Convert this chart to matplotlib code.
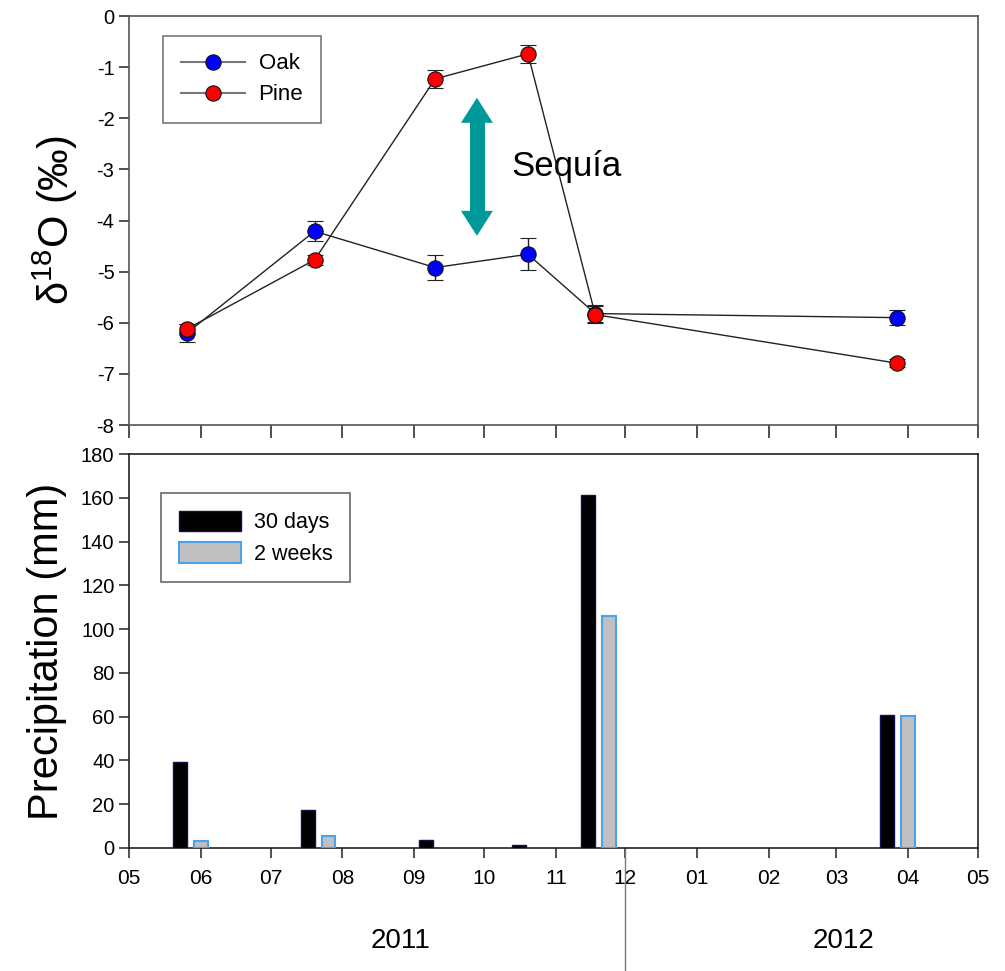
import matplotlib
matplotlib.use("Agg")
import matplotlib.pyplot as plt
import matplotlib.dates as mdates
import matplotlib.transforms as mtransforms
from matplotlib.lines import Line2D
import pandas as pd

plt.rcParams['font.family'] = ['Liberation Sans', 'DejaVu Sans']
plt.rcParams['mathtext.fontset'] = 'custom'
plt.rcParams['mathtext.rm'] = 'Liberation Sans'
plt.rcParams['axes.unicode_minus'] = False

# isotope samples
sample_dates = pd.to_datetime(['2011-05-26', '2011-07-20', '2011-09-10',
                               '2011-10-20', '2011-11-18', '2012-03-27'])
oak = [-6.2, -4.21, -4.92, -4.66, -5.82, -5.9]
oak_err = [0.18, 0.2, 0.24, 0.31, 0.17, 0.14]
pine = [-6.12, -4.77, -1.23, -0.74, -5.84, -6.79]
pine_err = [0.1, 0.1, 0.18, 0.18, 0.17, 0.08]

# precipitation
rain30_dates = pd.to_datetime(['2011-05-23', '2011-07-17', '2011-09-06',
                               '2011-10-16', '2011-11-15', '2012-03-23'])
rain30 = [39.3, 17.4, 3.5, 1.5, 161.5, 60.7]
rain2w_dates = pd.to_datetime(['2011-06-01', '2011-07-26', '2011-11-24', '2012-04-01'])
rain2w = [3.2, 5.6, 106, 60.5]

xstart = pd.Timestamp('2011-05-01')
xend = pd.Timestamp('2012-05-01')
drought_date = pd.Timestamp('2011-09-28')
drought_top, drought_bottom = -1.6, -4.3

fig = plt.figure(figsize=(10.05, 9.71), dpi=100)
ax1 = fig.add_axes([0.1284, 0.5623, 0.8446, 0.4212])
ax2 = fig.add_axes([0.1284, 0.1267, 0.8446, 0.4057])


def style_axis(ax, spine_col):
    for s in ax.spines.values():
        s.set_color(spine_col)
        s.set_linewidth(1.2)
    ax.set_xlim(xstart, xend)
    ax.xaxis.set_major_locator(mdates.MonthLocator())
    ax.xaxis.set_major_formatter(mdates.DateFormatter('%m'))
    ax.tick_params(axis='both', direction='out', length=7, width=1.2, color='#333333')


# TOP PANEL
style_axis(ax1, '#555555')
series = [(oak, oak_err, '#0000ff', 'Oak'), (pine, pine_err, '#ff0000', 'Pine')]
handles = []
for vals, err, col, name in series:
    ax1.errorbar(sample_dates, vals, yerr=err, color='#222222', lw=1, marker='o',
                 ms=11, mfc=col, mec='#111111', mew=0.8, capsize=6, ecolor='#222222',
                 elinewidth=1, zorder=3)
    handles.append(Line2D([], [], color='#777777', lw=1.5, marker='o', ms=11,
                          mfc=col, mec='#111111', mew=0.8, label=name))
ax1.set_ylim(-8, 0)
ax1.set_yticks(range(-8, 1))
ax1.tick_params(axis='y', labelsize=14.5)
ax1.tick_params(axis='x', labelbottom=False, length=9)
ax1.set_ylabel('δ$^{18}$O (‰)', fontsize=30, labelpad=12)

leg1 = ax1.legend(handles=handles, loc='upper left', bbox_to_anchor=(0.04, 0.952),
                  fontsize=16, frameon=True, fancybox=False, handlelength=2.9,
                  handletextpad=0.6, borderpad=0.8, labelspacing=0.45, borderaxespad=0)
leg1.get_frame().set_edgecolor('#555555')
leg1.get_frame().set_linewidth(1.2)

# drought arrow: filled heads + thick shaft
teal = '#009999'
ax1.annotate('', xy=(drought_date, drought_top), xytext=(drought_date, drought_bottom),
             arrowprops=dict(arrowstyle='<|-|>,head_width=1.15,head_length=1.8',
                             mutation_scale=10, fc=teal, ec=teal, lw=0,
                             shrinkA=0, shrinkB=0))
ax1.plot([drought_date, drought_date], [drought_top - 0.3, drought_bottom + 0.3],
         color=teal, lw=10.8, solid_capstyle='butt')
ax1.text(pd.Timestamp('2011-10-13'), -2.95, 'Sequía', fontsize=25, ha='left', va='center')

# BOTTOM PANEL
style_axis(ax2, '#222222')
ax2.bar(rain30_dates, rain30, width=6, color='black', edgecolor='#101050', lw=1,
        label='30 days', zorder=3)
ax2.bar(rain2w_dates, rain2w, width=6, color='#c0c0c0', edgecolor='#4aa3ef', lw=1.5,
        label='2 weeks', zorder=3)
ax2.set_ylim(0, 180)
ax2.set_yticks(range(0, 181, 20))
ax2.tick_params(axis='y', labelsize=14.5)
ax2.tick_params(axis='x', labelsize=15, pad=8)
ax2.set_ylabel('Precipitation (mm)', fontsize=30, labelpad=10)

leg2 = ax2.legend(loc='upper left', bbox_to_anchor=(0.038, 0.9), fontsize=15.5,
                  frameon=True, fancybox=False, handlelength=2.9, handleheight=1.1,
                  handletextpad=0.6, borderpad=0.8, labelspacing=0.4, borderaxespad=0)
leg2.get_frame().set_edgecolor('#444444')
leg2.get_frame().set_linewidth(1.2)

# year labels and separator
trans = mtransforms.blended_transform_factory(ax2.transData, ax2.transAxes)
sep = pd.Timestamp('2011-12-01')
ax2.plot([sep, sep], [0, -0.33], transform=trans, clip_on=False, color='#777777', lw=1)
ax2.text(pd.Timestamp('2011-08-26'), -0.235, '2011', transform=trans, fontsize=20,
         ha='center', va='center')
ax2.text(pd.Timestamp('2012-03-04'), -0.235, '2012', transform=trans, fontsize=20,
         ha='center', va='center')

fig.savefig('out.png', dpi=100)
